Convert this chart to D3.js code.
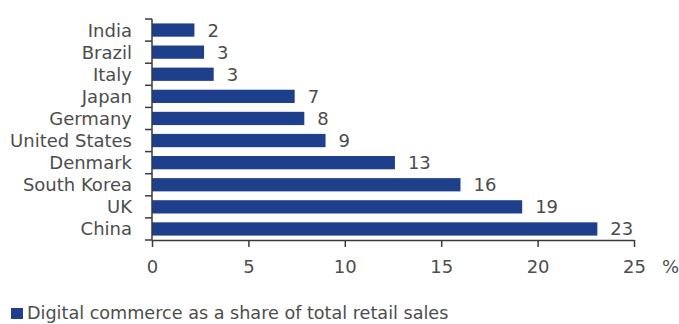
<!DOCTYPE html>
<html><head><meta charset="utf-8">
<script src="https://cdn.jsdelivr.net/npm/d3@7"></script>
<style>
html,body{margin:0;padding:0;background:#fff;}
svg text{font-family:"DejaVu Sans",sans-serif;fill:#4d4d4d;}
</style></head>
<body><svg id="c" width="679" height="324"></svg>
<script>
const countries = ["India","Brazil","Italy","Japan","Germany","United States","Denmark","South Korea","UK","China"];
const shares = [2.2, 2.7, 3.2, 7.4, 7.9, 9.0, 12.6, 16.0, 19.2, 23.1];
const shareLabels = ["2","3","3","7","8","9","13","16","19","23"];
const xTicks = [0,5,10,15,20,25];
const legendLabel = "Digital commerce as a share of total retail sales";

const svg = d3.select("#c");
const barColor = "#1e3f8b";
const axisColor = "#3a3a3a";
const fs = 18;

const x = d3.scaleLinear().domain([0,25]).range([152,634]);
const y = d3.scaleBand().domain(countries).range([19,240]).paddingInner(0.4).paddingOuter(0.2);
const step = y.step();

// bars
svg.selectAll("rect.bar").data(countries).join("rect")
  .attr("class","bar")
  .attr("x", x(0))
  .attr("y", d=>y(d))
  .attr("width", (d,i)=>x(shares[i])-x(0))
  .attr("height", y.bandwidth())
  .attr("fill", barColor);

// value labels
svg.selectAll("text.val").data(countries).join("text")
  .attr("class","val")
  .attr("x", (d,i)=>x(shares[i])+13)
  .attr("y", d=>y(d)+y.bandwidth()/2)
  .attr("dy","0.36em")
  .attr("font-size", fs)
  .text((d,i)=>shareLabels[i]);

// y axis
const yAxisG = svg.append("g");
yAxisG.append("line").attr("x1",x(0)).attr("x2",x(0))
  .attr("y1", y.range()[0]).attr("y2", y.range()[1])
  .attr("stroke",axisColor).attr("stroke-width",1.5);
const bounds = countries.map(c=>y(c)-step*0.2).concat([y.range()[1]]);
yAxisG.selectAll("line.yt").data(bounds).join("line")
  .attr("class","yt")
  .attr("x1", x(0)-7).attr("x2", x(0))
  .attr("y1", d=>d).attr("y2", d=>d)
  .attr("stroke",axisColor).attr("stroke-width",1.5);
yAxisG.selectAll("text.yl").data(countries).join("text")
  .attr("class","yl")
  .attr("x", x(0)-20)
  .attr("y", d=>y(d)+y.bandwidth()/2)
  .attr("dy","0.36em")
  .attr("text-anchor","end")
  .attr("font-size", fs)
  .text(d=>d);

// x axis
const xAxis = d3.axisBottom(x).tickValues(xTicks).tickSize(7).tickPadding(13).tickSizeOuter(0);
const xg = svg.append("g").attr("transform",`translate(0,${y.range()[1]})`).call(xAxis);
xg.attr("font-family",null);
xg.select(".domain").attr("stroke",axisColor).attr("stroke-width",1.5);
xg.selectAll(".tick line").attr("stroke",axisColor).attr("stroke-width",1.5);
xg.selectAll(".tick text").attr("font-size",fs).attr("fill","#4d4d4d");

svg.append("text").attr("x",662).attr("y",y.range()[1]+20).attr("dy","0.71em")
  .attr("font-size",fs).text("%");

// legend
svg.append("rect").attr("x",11).attr("y",308).attr("width",12).attr("height",11).attr("fill",barColor);
svg.append("text").attr("x",27).attr("y",319).attr("font-size",17.6).text(legendLabel);
</script></body></html>
